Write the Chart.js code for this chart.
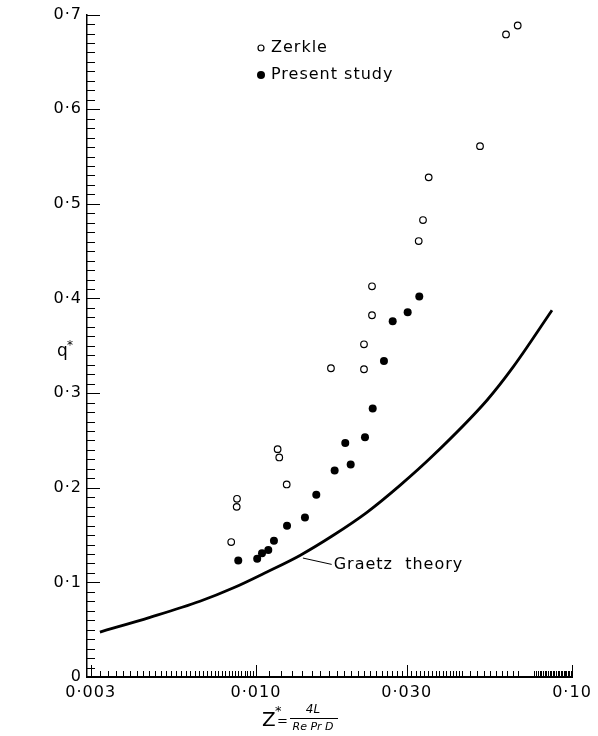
<!DOCTYPE html>
<html><head><meta charset="utf-8">
<script src="https://cdn.jsdelivr.net/npm/chart.js@4/dist/chart.umd.min.js"></script>
<style>html,body{margin:0;padding:0;background:#fff}#wrap{width:598px;height:736px;position:relative}</style>
</head><body><div id="wrap"><canvas id="c" width="598" height="736"></canvas></div>
<script>
// ---- tick labels ----
const xTickValues = [0.003, 0.01, 0.03, 0.1];
const xTickLabels = ['0·003', '0·010', '0·030', '0·10'];
const yTickValues = [0, 0.1, 0.2, 0.3, 0.4, 0.5, 0.6, 0.7];
const yTickLabels = ['0', '0·1', '0·2', '0·3', '0·4', '0·5', '0·6', '0·7'];

// ---- series: Zerkle (open circles) ----
const zerkleX = [0.00835, 0.00871, 0.00869, 0.01171, 0.01185, 0.01251, 0.01727, 0.02197, 0.02197, 0.02329, 0.02329, 0.03273, 0.03377, 0.0352, 0.05116, 0.06183, 0.06733];
const zerkleY = [0.1426, 0.1883, 0.1798, 0.2408, 0.2320, 0.2035, 0.3263, 0.3516, 0.3252, 0.4129, 0.3823, 0.4607, 0.4829, 0.5280, 0.5610, 0.6790, 0.6885];

// ---- series: Present study (filled circles) ----
const presentX = [0.00879, 0.01009, 0.01045, 0.01094, 0.0114, 0.01254, 0.01429, 0.01552, 0.01774, 0.01917, 0.01994, 0.02213, 0.02341, 0.02541, 0.02708, 0.0302, 0.03287];
const presentY = [0.1232, 0.1249, 0.1309, 0.1341, 0.1439, 0.1598, 0.1686, 0.1925, 0.2183, 0.2474, 0.2246, 0.2534, 0.2837, 0.3340, 0.3759, 0.3854, 0.4020];

// ---- series: Graetz theory curve ----
const graetzX = [0.003208, 0.00462, 0.00665, 0.00846, 0.01083, 0.01378, 0.01752, 0.02245, 0.02856, 0.03633, 0.05383, 0.06507, 0.08644];
const graetzY = [0.0475, 0.0630, 0.0800, 0.0940, 0.1110, 0.1285, 0.1495, 0.1740, 0.2025, 0.2340, 0.2925, 0.3274, 0.3875];

const legendLabels = ['Zerkle', 'Present study'];
const curveLabel = 'Graetz  theory';
const FONT = "'DejaVu Sans', sans-serif";

const pts = (xs, ys) => xs.map((x, i) => ({x: x, y: ys[i]}));

// minor tick values for x axis (decoration only)
const xMinor = [];
for (let v = 0.0032; v < 0.00999; v += 0.0002) xMinor.push(v);
for (let v = 0.011; v < 0.0299; v += 0.001) xMinor.push(v);
for (let v = 0.031; v < 0.0455; v += 0.001) xMinor.push(v);
for (let v = 0.0475; v < 0.068; v += 0.0025) xMinor.push(v);
for (let v = 0.076; v < 0.0995; v += 0.001) xMinor.push(v);

const spacing = {
  id: 'spacing',
  beforeUpdate(chart) { chart.ctx.letterSpacing = '1px'; },
  beforeDraw(chart) { chart.ctx.letterSpacing = '1px'; }
};

const decor = {
  id: 'decor',
  afterDraw(chart) {
    const {ctx, chartArea: a, scales: {x, y}} = chart;
    ctx.save();
    ctx.strokeStyle = '#000';
    ctx.fillStyle = '#000';
    ctx.lineWidth = 1;
    // y ticks inside
    for (let k = 1; k <= 70; k++) {
      const py = Math.round(y.getPixelForValue(k / 100)) + 0.5;
      const len = k % 10 === 0 ? 13 : 8;
      ctx.beginPath(); ctx.moveTo(a.left, py); ctx.lineTo(a.left + len, py); ctx.stroke();
    }
    // x ticks inside
    xMinor.forEach(v => {
      const px = Math.round(x.getPixelForValue(v)) + 0.5;
      ctx.beginPath(); ctx.moveTo(px, a.bottom); ctx.lineTo(px, a.bottom - 6); ctx.stroke();
    });
    xTickValues.forEach(v => {
      const px = Math.round(x.getPixelForValue(v)) + 0.5;
      ctx.beginPath(); ctx.moveTo(px, a.bottom); ctx.lineTo(px, a.bottom - 12); ctx.stroke();
    });

    ctx.letterSpacing = '1px';
    ctx.textBaseline = 'middle';
    ctx.textAlign = 'left';
    // legend
    ctx.font = '16px ' + FONT;
    ctx.lineWidth = 1.2;
    ctx.beginPath(); ctx.arc(261, 48, 3, 0, Math.PI * 2); ctx.stroke();
    ctx.fillText(legendLabels[0], 271, 48);
    ctx.beginPath(); ctx.arc(261, 75, 4, 0, Math.PI * 2); ctx.fill();
    ctx.fillText(legendLabels[1], 271, 75);

    // Graetz annotation with leader line
    const sx = x.getPixelForValue(0.01408), sy = y.getPixelForValue(0.1257);
    const ex = x.getPixelForValue(0.01736), ey = y.getPixelForValue(0.119);
    ctx.lineWidth = 1;
    ctx.beginPath(); ctx.moveTo(sx, sy); ctx.lineTo(ex, ey); ctx.stroke();
    ctx.fillText(curveLabel, ex + 2, ey);

    // y axis title q*
    ctx.font = '17px ' + FONT;
    ctx.letterSpacing = '0px';
    ctx.fillText('q', 57, 352);
    ctx.font = '12px ' + FONT;
    ctx.fillText('*', 67, 346);

    // x axis title Z* = 4L / (Re Pr D)
    ctx.font = '20px ' + FONT;
    ctx.fillText('Z', 262, 721);
    ctx.font = '13px ' + FONT;
    ctx.fillText('*', 275, 712);
    ctx.fillText('=', 277, 722);
    ctx.textAlign = 'center';
    ctx.font = 'italic 12px ' + FONT;
    ctx.fillText('4L', 313, 710);
    ctx.font = 'italic 11px ' + FONT;
    ctx.fillText('Re Pr D', 313, 727);
    ctx.lineWidth = 1;
    ctx.beginPath(); ctx.moveTo(290, 718.5); ctx.lineTo(338, 718.5); ctx.stroke();
    ctx.restore();
  }
};

new Chart(document.getElementById('c'), {
  type: 'scatter',
  data: {
    datasets: [
      {
        label: 'Graetz theory',
        data: pts(graetzX, graetzY),
        showLine: true,
        borderColor: '#000',
        borderWidth: 2.8,
        pointRadius: 0,
        cubicInterpolationMode: 'monotone',
        fill: false
      },
      {
        label: legendLabels[0],
        data: pts(zerkleX, zerkleY),
        pointRadius: 3.3,
        pointBackgroundColor: '#fff',
        pointBorderColor: '#000',
        pointBorderWidth: 1.2,
        showLine: false
      },
      {
        label: legendLabels[1],
        data: pts(presentX, presentY),
        pointRadius: 4,
        pointBackgroundColor: '#000',
        pointBorderColor: '#000',
        pointBorderWidth: 0,
        showLine: false
      }
    ]
  },
  options: {
    responsive: false,
    animation: false,
    devicePixelRatio: 1,
    layout: {padding: {top: 14, right: 26, left: 0, bottom: 0}},
    plugins: {legend: {display: false}, tooltip: {enabled: false}},
    scales: {
      x: {
        type: 'logarithmic',
        min: 0.00292,
        max: 0.1,
        grid: {display: false, drawTicks: false},
        border: {display: true, color: '#000', width: 2},
        afterBuildTicks: s => { s.ticks = xTickValues.map(v => ({value: v})); },
        afterFit: s => { s.height = 59; },
        ticks: {
          autoSkip: false, maxRotation: 0, padding: 6, color: '#000',
          font: {size: 16, family: FONT},
          callback: (v) => { const i = xTickValues.findIndex(t => Math.abs(t - v) < 1e-9); return i >= 0 ? xTickLabels[i] : ''; }
        }
      },
      y: {
        type: 'linear',
        min: 0,
        max: 0.7,
        grid: {display: false, drawTicks: false},
        border: {display: true, color: '#000', width: 1.5},
        afterBuildTicks: s => { s.ticks = yTickValues.map(v => ({value: v})); },
        afterFit: s => { s.width = 87; },
        ticks: {
          autoSkip: false, padding: 5, color: '#000',
          font: {size: 16, family: FONT},
          callback: (v) => { const i = yTickValues.findIndex(t => Math.abs(t - v) < 1e-9); return i >= 0 ? yTickLabels[i] : ''; }
        }
      }
    }
  },
  plugins: [spacing, decor]
});
</script>
</body></html>
